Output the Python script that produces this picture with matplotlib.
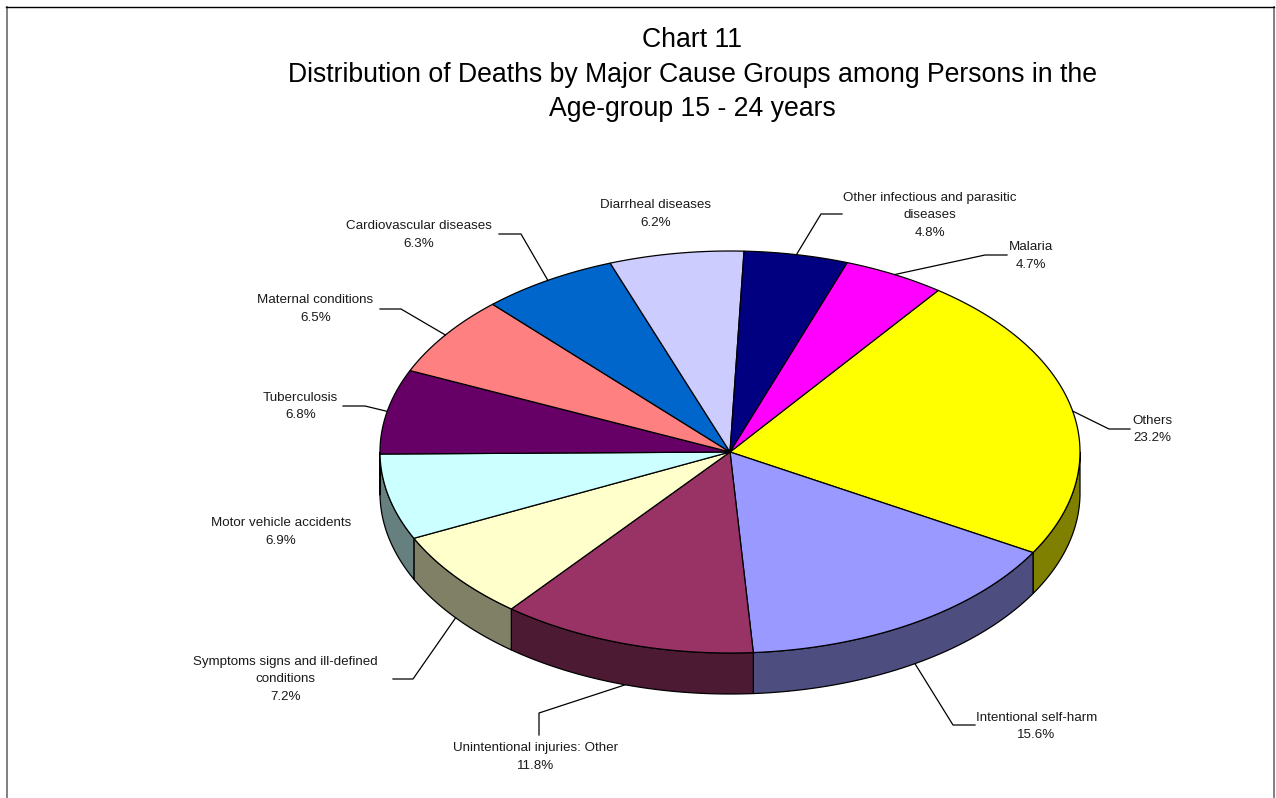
import numpy as np
import matplotlib
matplotlib.use('Agg')
import matplotlib.pyplot as plt

plt.rcParams['font.family'] = ['Liberation Sans', 'DejaVu Sans']

# clockwise from the "Others" slice
causes = ['Others', 'Intentional self-harm', 'Unintentional injuries: Other',
          'Symptoms signs and ill-defined\nconditions', 'Motor vehicle accidents',
          'Tuberculosis', 'Maternal conditions', 'Cardiovascular diseases',
          'Diarrheal diseases', 'Other infectious and parasitic\ndiseases', 'Malaria']
shares = [23.2, 15.6, 11.8, 7.2, 6.9, 6.8, 6.5, 6.3, 6.2, 4.8, 4.7]
top_colors = ['#FFFF00', '#9999FF', '#993366', '#FFFFCC', '#CCFFFF', '#660066',
              '#FF8080', '#0066CC', '#CCCCFF', '#000080', '#FF00FF']

title = ('Chart 11\nDistribution of Deaths by Major Cause Groups among Persons in the\n'
         'Age-group 15 - 24 years')

# pie geometry, in pixels of the picture
cx, cy = 730, 452
rx, ry = 350, 201
depth = 41
start_angle = 36.5

# label centres
label_pos = [(1152, 429.5), (1036.5, 726.5), (536, 757), (285.5, 679.5), (281, 532), (300.5, 406.5),
             (315.5, 309), (419, 235), (656, 214), (930, 215.5), (1030.5, 256)]
# leader line: elbow then end at the label, None where there is no leader
leaders = [[(1109, 429), (1130, 429)], [(953, 725), (975, 725)], [(539, 713), (539, 735)],
           [(413, 679), (393, 679)], None, [(365, 406), (343, 406)],
           [(401, 309), (380, 309)], [(521, 234), (499, 234)], None,
           [(821, 214), (842, 214)], [(985, 255), (1007, 255)]]


def rim(theta):
    t = np.radians(theta)
    return cx + rx * np.sin(t), cy - ry * np.cos(t)


fig = plt.figure(figsize=(12.76, 7.98), dpi=100)
ax = fig.add_axes([0, 0, 1, 1])
ax.set_xlim(0, 1276)
ax.set_ylim(798, 0)
ax.axis('off')

# frame of the chart area, the bottom edge is cut off in the original
ax.plot([6.5, 6.5], [6.5, 798], color='#808080', lw=1.4)
ax.plot([1274, 1274], [6.5, 798], color='#808080', lw=1.4)
ax.plot([6, 1274], [6.5, 6.5], color='black', lw=1)

ax.text(692, 74.5, title, ha='center', va='center', fontsize=19.2, linespacing=1.44,
        color='black')

edges = start_angle + np.concatenate([[0], np.cumsum(shares)]) * 3.6

# side walls first, only the front half of the pie shows them
for i in range(len(shares)):
    a = max(edges[i], 90)
    b = min(edges[i + 1], 270)
    if a >= b:
        continue
    x, y = rim(np.linspace(a, b, 80))
    r, g, bl, _ = matplotlib.colors.to_rgba(top_colors[i])
    ax.fill(np.r_[x, x[::-1]], np.r_[y, y[::-1] + depth],
            facecolor=(r * 0.5, g * 0.5, bl * 0.5), edgecolor='black', lw=0.9, joinstyle='round')

# top faces
for i in range(len(shares)):
    x, y = rim(np.linspace(edges[i], edges[i + 1], 100))
    ax.fill(np.r_[cx, x], np.r_[cy, y], facecolor=top_colors[i], edgecolor='black',
            lw=0.9, joinstyle='round')

# labels and leader lines
for i in range(len(shares)):
    ax.text(label_pos[i][0], label_pos[i][1], '%s\n%.1f%%' % (causes[i], shares[i]),
            ha='center', va='center', fontsize=9.6, linespacing=1.66, color='#1a1a1a')
    if leaders[i] is None:
        continue
    mid = (edges[i] + edges[i + 1]) / 2
    x0, y0 = rim(mid)
    if 90 < mid < 270:
        y0 += depth
    ax.plot([x0] + [p[0] for p in leaders[i]], [y0] + [p[1] for p in leaders[i]],
            color='black', lw=0.9)

fig.savefig('out.png', dpi=100)
